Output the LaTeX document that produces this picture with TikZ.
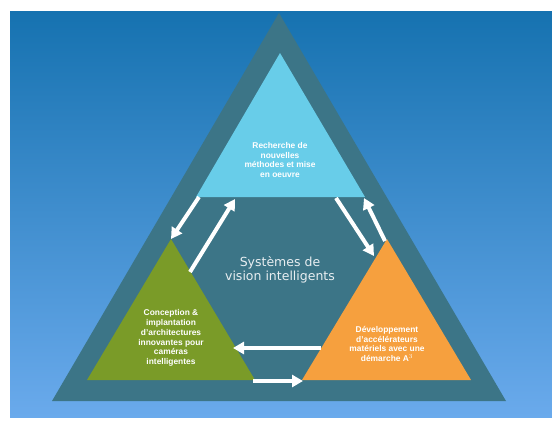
\documentclass[tikz,border=0pt]{standalone}
\usepackage{fontspec}
\setmainfont{Liberation Sans}
\newfontfamily\sysfont{DejaVu Sans}
\usetikzlibrary{arrows.meta}
\definecolor{bgtop}{RGB}{22,114,176}
\definecolor{bgbot}{RGB}{106,170,236}
\definecolor{teal}{RGB}{60,117,135}
\definecolor{skyblue}{RGB}{104,205,233}
\definecolor{leafgreen}{RGB}{122,155,40}
\definecolor{tangerine}{RGB}{246,160,62}
\tikzset{
  flow/.style={white, line width=4pt, -{Triangle[length=11pt,width=12pt]}},
  label/.style={text=white, align=center, font=\bfseries\fontsize{8.4}{9.8}\selectfont, inner sep=0pt}
}

\begin{document}
\begin{tikzpicture}[x=1pt, y=-1pt]
			%%%%% START %%%%%
			\useasboundingbox (0, 0) rectangle (552, 424);
			\fill[white] (0, 0) rectangle (552, 424);
			\fill[top color=bgtop, bottom color=bgbot] (10, 11) rectangle (552, 417);
			
			% outer triangle
			\coordinate (outerTop) at (279, 13);
			\coordinate (outerLeft) at (52, 401);
			\coordinate (outerRight) at (506, 401);
			\fill[teal] (outerTop) -- (outerLeft) -- (outerRight) -- cycle;
			
			% research (top)
			\coordinate (rechTop) at (280, 53);
			\coordinate (rechLeft) at (196, 197);
			\coordinate (rechRight) at (365, 197);
			\fill[skyblue] (rechTop) -- (rechLeft) -- (rechRight) -- cycle;
			
			% design (left)
			\coordinate (concTop) at (171, 239);
			\coordinate (concLeft) at (87, 380);
			\coordinate (concRight) at (255, 380);
			\fill[leafgreen] (concTop) -- (concLeft) -- (concRight) -- cycle;
			
			% hardware (right)
			\coordinate (devTop) at (387, 239);
			\coordinate (devLeft) at (302, 380);
			\coordinate (devRight) at (471, 380);
			\fill[tangerine] (devTop) -- (devLeft) -- (devRight) -- cycle;
			
			\node[label] (rech) at (280, 160) {Recherche de\\nouvelles\\méthodes et mise\\en oeuvre};
			\node[label] (conc) at (171, 338) {Conception \&\\implantation\\d'architectures\\innovantes pour\\caméras\\intelligentes};
			\node[label] (dev) at (387, 344) {Développement\\d'accélérateurs\\matériels avec une\\démarche A$^{3}$};
			\node[text=white!88!teal, align=center, font=\sysfont\fontsize{12.5}{14.5}\selectfont] (sys) at (280, 270) {Systèmes de\\vision intelligents};
			
			% arrows
			\coordinate (a1) at (199, 197);
			\coordinate (b1) at (171, 239);
			\coordinate (a2) at (190, 272);
			\coordinate (b2) at (235, 199);
			\coordinate (a3) at (336, 198);
			\coordinate (b3) at (374, 256);
			\coordinate (a4) at (385, 241);
			\coordinate (b4) at (364, 198);
			\coordinate (a5) at (321, 348);
			\coordinate (b5) at (233, 348);
			\coordinate (a6) at (253, 381);
			\coordinate (b6) at (303, 381);
			\draw[flow] (a1) -- (b1);
			\draw[flow] (a2) -- (b2);
			\draw[flow] (a3) -- (b3);
			\draw[flow] (a4) -- (b4);
			\draw[flow] (a5) -- (b5);
			\draw[flow] (a6) -- (b6);
			%%%%% END %%%%%
\end{tikzpicture}
\end{document}
